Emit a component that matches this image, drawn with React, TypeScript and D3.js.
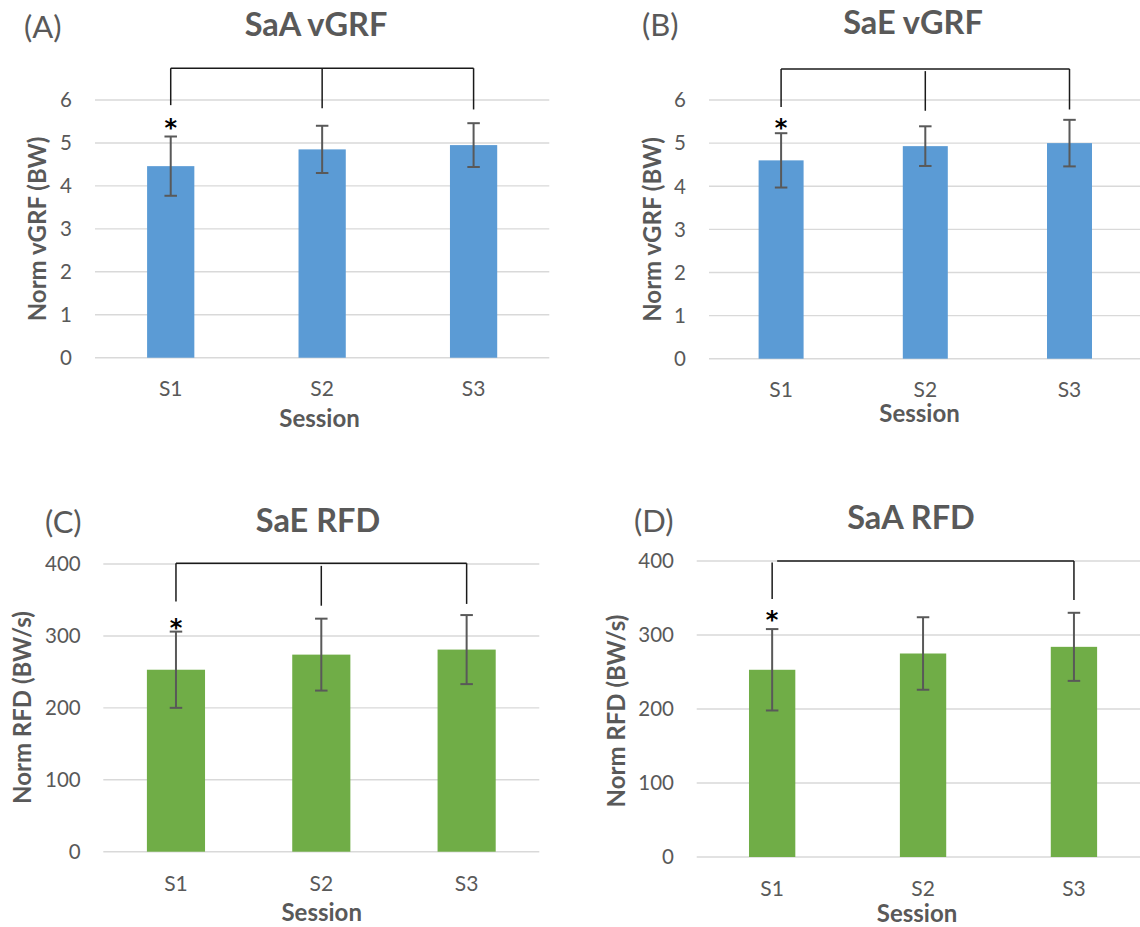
import React from "react";
import * as d3 from "d3";

// Categories and axis ticks
const sessions = ["S1", "S2", "S3"];
const vgrfTicks = [0, 1, 2, 3, 4, 5, 6];
const rfdTicks = [0, 100, 200, 300, 400];

// Normalised vertical ground reaction force (BW): mean and SD per session
const saaVgrfMean = [4.46, 4.85, 4.95];
const saaVgrfSd = [0.69, 0.55, 0.51];
const saeVgrfMean = [4.6, 4.93, 5.0];
const saeVgrfSd = [0.63, 0.46, 0.54];

// Normalised rate of force development (BW/s): mean and SD per session
const saeRfdMean = [253, 274, 281];
const saeRfdSd = [53, 50, 48];
const saaRfdMean = [253, 275, 284];
const saaRfdSd = [55, 49, 46];

const FONT = "Lato, 'Open Sans', sans-serif";
const TEXT = "#595959";
const GRID = "#D9D9D9";

type Drop = { i: number; top: number; bottom: number };
type Panel = {
  letter: string;
  title: string;
  yTitle: string;
  mean: number[];
  sd: number[];
  ticks: number[];
  color: string;
  // significance bracket (data units) and the starred session
  bracketTop: number;
  bracketStart: number;
  drops: Drop[];
  starIndex: number;
  starY: number;
  // layout
  x0: number;
  x1: number;
  yZero: number;
  yMaxPx: number;
  barFrac: number;
  letterX: number;
  letterY: number;
  titleX: number;
  titleY: number;
  yTitleX: number;
  yTitleY: number;
  tickRight: number;
  catY: number;
  sessionX: number;
  sessionY: number;
};

const panels: Panel[] = [
  {
    letter: "(A)", title: "SaA vGRF", yTitle: "Norm vGRF (BW)",
    mean: saaVgrfMean, sd: saaVgrfSd, ticks: vgrfTicks, color: "#5B9BD5",
    bracketTop: 6.74, bracketStart: 0,
    drops: [{ i: 0, top: 6.74, bottom: 5.88 }, { i: 1, top: 6.74, bottom: 5.81 }, { i: 2, top: 6.74, bottom: 5.78 }],
    starIndex: 0, starY: 5.48,
    x0: 95, x1: 549.3, yZero: 357.7, yMaxPx: 100, barFrac: 0.312,
    letterX: 24, letterY: 38, titleX: 316, titleY: 36,
    yTitleX: 37.5, yTitleY: 229, tickRight: 72, catY: 396, sessionX: 319.5, sessionY: 426.5,
  },
  {
    letter: "(B)", title: "SaE vGRF", yTitle: "Norm vGRF (BW)",
    mean: saeVgrfMean, sd: saeVgrfSd, ticks: vgrfTicks, color: "#5B9BD5",
    bracketTop: 6.72, bracketStart: 0,
    drops: [{ i: 0, top: 6.72, bottom: 5.84 }, { i: 1, top: 6.67, bottom: 5.75 }, { i: 2, top: 6.72, bottom: 5.78 }],
    starIndex: 0, starY: 5.47,
    x0: 709, x1: 1141.6, yZero: 358.7, yMaxPx: 100, barFrac: 0.312,
    letterX: 642, letterY: 36, titleX: 913, titleY: 34,
    yTitleX: 652, yTitleY: 229.5, tickRight: 686, catY: 397.3, sessionX: 919.5, sessionY: 421.7,
  },
  {
    letter: "(C)", title: "SaE RFD", yTitle: "Norm RFD (BW/s)",
    mean: saeRfdMean, sd: saeRfdSd, ticks: rfdTicks, color: "#70AD47",
    bracketTop: 401, bracketStart: 0,
    drops: [{ i: 0, top: 401, bottom: 347.7 }, { i: 1, top: 397.4, bottom: 342 }, { i: 2, top: 401, bottom: 344.5 }],
    starIndex: 0, starY: 318.5,
    x0: 103.3, x1: 539.3, yZero: 851.7, yMaxPx: 564, barFrac: 0.4,
    letterX: 45, letterY: 533, titleX: 318, titleY: 531.7,
    yTitleX: 22.5, yTitleY: 707.5, tickRight: 80.7, catY: 890.7, sessionX: 321.7, sessionY: 921,
  },
  {
    letter: "(D)", title: "SaA RFD", yTitle: "Norm RFD (BW/s)",
    mean: saaRfdMean, sd: saaRfdSd, ticks: rfdTicks, color: "#70AD47",
    bracketTop: 400, bracketStart: 5,
    drops: [{ i: 0, top: 398, bottom: 348.6 }, { i: 2, top: 400, bottom: 347.3 }],
    starIndex: 0, starY: 327,
    x0: 696.7, x1: 1149.4, yZero: 857, yMaxPx: 561, barFrac: 0.307,
    letterX: 634, letterY: 531.7, titleX: 911, titleY: 529,
    yTitleX: 616, yTitleY: 711, tickRight: 674, catY: 896, sessionX: 917, sessionY: 921.5,
  },
];

function ChartPanel({ p }: { p: Panel }) {
  const x = d3.scaleBand<string>().domain(sessions).range([p.x0, p.x1]).padding(0);
  const yMax = p.ticks[p.ticks.length - 1];
  const y = d3.scaleLinear().domain([0, yMax]).range([p.yZero, p.yMaxPx]);
  const cx = (i: number) => (x(sessions[i]) as number) + x.bandwidth() / 2;
  const barW = x.bandwidth() * p.barFrac;
  const capW = 12.5;
  const last = sessions.length - 1;

  return (
    <g fontFamily={FONT}>
      {/* panel letter and title */}
      <text x={p.letterX} y={p.letterY} fontSize={31} fill={TEXT}>{p.letter}</text>
      <text x={p.titleX} y={p.titleY} fontSize={32.5} fontWeight={700} fill={TEXT} textAnchor="middle">{p.title}</text>

      {/* horizontal gridlines */}
      {p.ticks.map((t) => (
        <line key={"g" + t} x1={p.x0} x2={p.x1} y1={y(t)} y2={y(t)} stroke={GRID} strokeWidth={1.4} />
      ))}

      {/* y tick labels */}
      {p.ticks.map((t) => (
        <text key={"t" + t} x={p.tickRight} y={y(t)} dy="0.36em" fontSize={20.5} fill={TEXT} textAnchor="end">{t}</text>
      ))}

      {/* bars */}
      {p.mean.map((m, i) => (
        <rect key={"b" + i} x={cx(i) - barW / 2} y={y(m)} width={barW} height={y(0) - y(m)} fill={p.color} />
      ))}

      {/* SD error bars */}
      {p.mean.map((m, i) => {
        const hi = y(m + p.sd[i]);
        const lo = y(m - p.sd[i]);
        const c = cx(i);
        return (
          <g key={"e" + i} stroke="#595959" strokeWidth={2}>
            <line x1={c} x2={c} y1={hi} y2={lo} />
            <line x1={c - capW / 2} x2={c + capW / 2} y1={hi} y2={hi} />
            <line x1={c - capW / 2} x2={c + capW / 2} y1={lo} y2={lo} />
          </g>
        );
      })}

      {/* significance bracket */}
      <g stroke="#1a1a1a" strokeWidth={1.5} fill="none">
        <line x1={cx(0) + p.bracketStart} x2={cx(last)} y1={y(p.bracketTop)} y2={y(p.bracketTop)} />
        {p.drops.map((d) => (
          <line key={"d" + d.i} x1={cx(d.i)} x2={cx(d.i)} y1={y(d.top)} y2={y(d.bottom)} />
        ))}
      </g>
      <text
        x={cx(p.starIndex)}
        y={y(p.starY)}
        dy="0.55em"
        fontFamily="'DejaVu Sans', sans-serif"
        fontSize={24}
        fontWeight={700}
        fill="#000"
        textAnchor="middle"
      >
        *
      </text>

      {/* category labels */}
      {sessions.map((s, i) => (
        <text key={"c" + s} x={cx(i)} y={p.catY} fontSize={21} fill={TEXT} textAnchor="middle">{s}</text>
      ))}

      {/* axis titles */}
      <text x={p.sessionX} y={p.sessionY} fontSize={24} fontWeight={700} fill={TEXT} textAnchor="middle">Session</text>
      <text
        transform={`translate(${p.yTitleX},${p.yTitleY}) rotate(-90)`}
        dy="0.36em"
        fontSize={24}
        fontWeight={700}
        fill={TEXT}
        textAnchor="middle"
      >
        {p.yTitle}
      </text>
    </g>
  );
}

export default function App() {
  return (
    <svg
      width={1140}
      height={927}
      viewBox="0 0 1140 927"
      style={{ position: "absolute", left: 0, top: 0, background: "#fff" }}
    >
      <rect width={1140} height={927} fill="#fff" />
      {panels.map((p) => (
        <ChartPanel key={p.letter} p={p} />
      ))}
    </svg>
  );
}
